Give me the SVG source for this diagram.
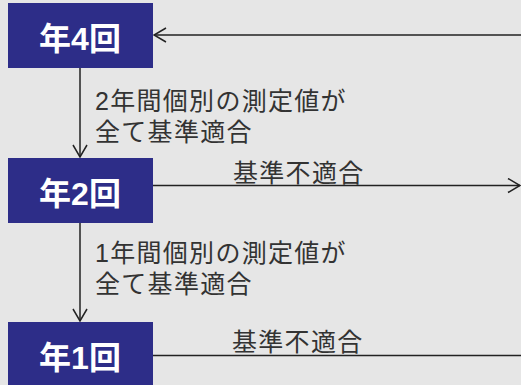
<svg xmlns="http://www.w3.org/2000/svg" width="521" height="385" viewBox="0 0 521 385">
<style>
.box{fill:#2d2d88}
.bt{font-family:"Liberation Sans","Noto Sans CJK JP",sans-serif;font-weight:bold;font-size:32px;fill:#ffffff;text-anchor:middle}
.lb{font-family:"Liberation Sans","Noto Sans CJK JP",sans-serif;font-size:25px;letter-spacing:1.3px;fill:#333333}
.ln{stroke:#222222;stroke-width:1.5;fill:none}
</style>
<defs>
<marker id="ah" viewBox="0 0 14 16" refX="13" refY="8" markerWidth="14" markerHeight="16" markerUnits="userSpaceOnUse" orient="auto">
<path d="M1,1 L13,8 L1,15" fill="none" stroke="#222222" stroke-width="1.5"/>
</marker>
</defs>
<rect width="521" height="385" fill="#e6e6e6"/>
<g id="connectors">
<line class="ln" x1="521" y1="35" x2="154" y2="35" marker-end="url(#ah)"/>
<line class="ln" x1="80" y1="68" x2="80" y2="157" marker-end="url(#ah)"/>
<line class="ln" x1="153" y1="185.5" x2="520" y2="185.5" marker-end="url(#ah)"/>
<line class="ln" x1="80" y1="223" x2="80" y2="321" marker-end="url(#ah)"/>
<line class="ln" x1="150" y1="355.5" x2="521" y2="355.5"/>
<text class="lb" x="95" y="110">2年間個別の測定値が</text>
<text class="lb" x="95" y="141">全て基準適合</text>
<text class="lb" x="233" y="182">基準不適合</text>
<text class="lb" x="95" y="262">1年間個別の測定値が</text>
<text class="lb" x="95" y="293">全て基準適合</text>
<text class="lb" x="232" y="351">基準不適合</text>
</g>
<g id="node1">
<rect class="box" x="8" y="3" width="145" height="65"/>
<text class="bt" x="80" y="50">年4回</text>
</g>
<g id="node2">
<rect class="box" x="8" y="158" width="145" height="65"/>
<text class="bt" x="80" y="205">年2回</text>
</g>
<g id="node3">
<rect class="box" x="8" y="322" width="145" height="66"/>
<text class="bt" x="80" y="369">年1回</text>
</g>
</svg>
